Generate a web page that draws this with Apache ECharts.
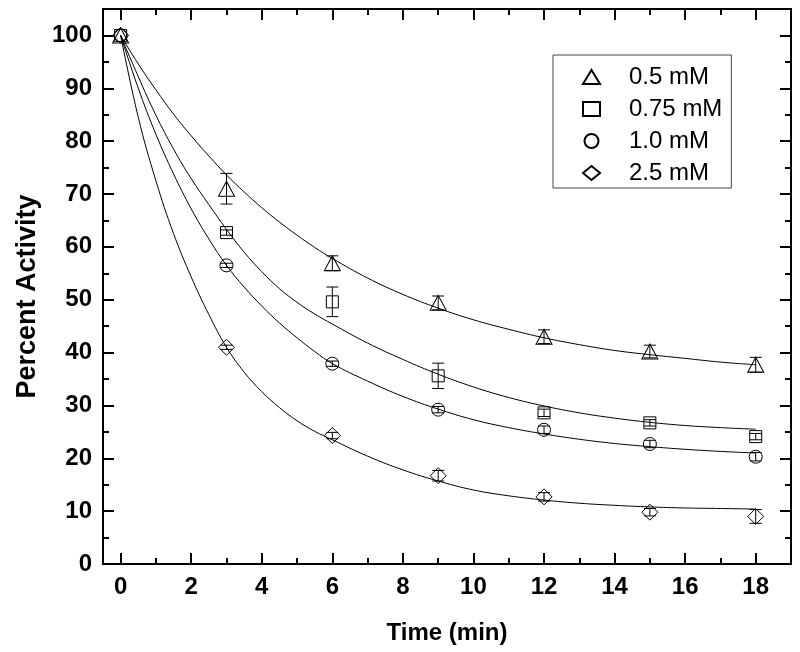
<!DOCTYPE html>
<html>
<head>
<meta charset="utf-8">
<script src="https://cdn.jsdelivr.net/npm/echarts@6/dist/echarts.min.js"></script>
<style>html,body{margin:0;padding:0;background:#fff}#c{width:800px;height:652px}</style>
</head>
<body>
<div id="c"></div>
<script>
// ---- data ----
const times = [0, 3, 6, 9, 12, 15, 18];
const act05  = [100, 71.0, 56.9, 49.4, 43.0, 40.2, 37.7];
const err05  = [0, 2.9, 1.4, 1.3, 1.3, 1.2, 1.4];
const act075 = [100, 62.7, 49.6, 35.6, 28.6, 26.7, 24.1];
const err075 = [0, 0.5, 2.8, 2.4, 0.7, 0.6, 0.6];
const act10  = [100, 56.5, 37.9, 29.2, 25.4, 22.7, 20.3];
const err10  = [0, 0.4, 0.5, 0.6, 0.7, 0.7, 0.8];
const act25  = [100, 41.0, 24.3, 16.7, 12.7, 9.8, 9.0];
const err25  = [0, 0.4, 0.6, 1.0, 0.8, 0.7, 1.3];

// fitted curves
const fitT   = [0, 0.5, 1, 1.5, 2, 2.5, 3, 3.5, 4, 4.5, 5, 5.5, 6, 7, 8, 9, 10, 11, 12, 13, 14, 15, 16, 17, 18];
const fit05  = [100, 94.6, 89.7, 85.1, 81.0, 77.2, 73.6, 70.4, 67.4, 64.7, 62.2, 59.9, 57.8, 54.1, 51.0, 48.4, 46.2, 44.4, 42.8, 41.5, 40.4, 39.6, 38.9, 38.2, 37.7];
const fit075 = [100, 92.2, 84.9, 78.5, 72.9, 68.0, 63.3, 59.0, 55.3, 52.1, 49.5, 47.3, 45.4, 41.8, 38.7, 35.9, 33.5, 31.5, 29.9, 28.6, 27.6, 26.8, 26.2, 25.8, 25.5];
const fit10  = [100, 90.0, 81.3, 73.8, 67.2, 61.5, 56.5, 52.4, 48.8, 45.6, 42.8, 40.2, 37.9, 34.6, 31.7, 29.3, 27.3, 25.8, 24.6, 23.6, 22.8, 22.2, 21.7, 21.3, 21.0];
const fit25  = [100, 84.5, 72.5, 62.5, 54.3, 47.2, 41.0, 36.3, 32.6, 29.6, 27.1, 25.1, 23.5, 20.4, 17.8, 15.7, 14.0, 12.9, 12.1, 11.5, 11.1, 10.8, 10.6, 10.5, 10.4];

const names = ['0.5 mM', '0.75 mM', '1.0 mM', '2.5 mM'];
const xMajor = [0, 2, 4, 6, 8, 10, 12, 14, 16, 18];
const xMinor = [1, 3, 5, 7, 9, 11, 13, 15, 17];
const yMajor = [0, 10, 20, 30, 40, 50, 60, 70, 80, 90, 100];
const yMinor = [5, 15, 25, 35, 45, 55, 65, 75, 85, 95];

const FONT = "'Liberation Sans', Arial, Helvetica, sans-serif";

const groups = [
  {name: names[0], act: act05, err: err05, fit: fit05, symbol: 'triangle', size: [16, 15]},
  {name: names[1], act: act075, err: err075, fit: fit075, symbol: 'rect', size: [12, 12]},
  {name: names[2], act: act10, err: err10, fit: fit10, symbol: 'circle', size: [13, 13]},
  {name: names[3], act: act25, err: err25, fit: fit25, symbol: 'diamond', size: [16, 16]}
];

function errRender(params, api) {
  const x = api.value(0), y = api.value(1), e = api.value(2);
  if (!e) return null;
  const p1 = api.coord([x, y + e]);
  const p2 = api.coord([x, y - e]);
  const h = 6;
  const st = {stroke: '#000', lineWidth: 1, fill: null};
  return {
    type: 'group',
    children: [
      {type: 'line', shape: {x1: p1[0], y1: p1[1], x2: p2[0], y2: p2[1]}, style: st},
      {type: 'line', shape: {x1: p1[0] - h, y1: p1[1], x2: p1[0] + h, y2: p1[1]}, style: st},
      {type: 'line', shape: {x1: p2[0] - h, y1: p2[1], x2: p2[0] + h, y2: p2[1]}, style: st}
    ]
  };
}

const series = [];
groups.forEach((g, gi) => {
  series.push({
    type: 'line', name: 'fit' + gi, data: fitT.map((t, i) => [t, g.fit[i]]),
    smooth: 0.4, symbol: 'none', showSymbol: false, silent: true, z: 1,
    lineStyle: {color: '#000', width: 1}
  });
  series.push({
    type: 'custom', name: 'err' + gi, renderItem: errRender, z: 2, silent: true,
    encode: {x: 0, y: 1},
    data: times.map((t, i) => [t, g.act[i], g.err[i]])
  });
  series.push({
    type: 'scatter', name: g.name, symbol: g.symbol, symbolSize: g.size, z: 3,
    itemStyle: {color: 'rgba(0,0,0,0)', borderColor: '#000', borderWidth: 1, opacity: 1},
    data: times.map((t, i) => [t, g.act[i]])
  });
});

function xAx(pos, vals, len, labels) {
  const a = {
    type: 'value', position: pos, min: -0.5, max: 19,
    splitLine: {show: false},
    axisLine: {show: false, onZero: false},
    axisTick: {show: true, inside: true, length: len, customValues: vals, lineStyle: {color: '#000', width: 2}},
    axisLabel: {show: false}
  };
  if (labels) {
    a.axisLabel = {show: true, customValues: vals, fontSize: 24, fontWeight: 'bold', fontFamily: FONT, color: '#000', margin: 11};
    a.name = 'Time (min)';
    a.nameLocation = 'middle';
    a.nameGap = 57;
    a.nameTextStyle = {fontSize: 24, fontWeight: 'bold', fontFamily: FONT, color: '#000'};
  }
  return a;
}
function yAx(pos, vals, len, labels) {
  const a = {
    type: 'value', position: pos, min: 0, max: 105,
    splitLine: {show: false},
    axisLine: {show: false, onZero: false},
    axisTick: {show: true, inside: true, length: len, customValues: vals, lineStyle: {color: '#000', width: 2}},
    axisLabel: {show: false}
  };
  if (labels) {
    a.axisLabel = {show: true, customValues: vals, fontSize: 24, fontWeight: 'bold', fontFamily: FONT, color: '#000', margin: 11};
    a.name = 'Percent Activity';
    a.nameLocation = 'middle';
    a.nameGap = 60;
    a.nameTextStyle = {fontSize: 27, fontWeight: 'bold', fontFamily: FONT, color: '#000', padding: [0, 20, 0, 0]};
  }
  return a;
}

const chart = echarts.init(document.getElementById('c'), null, {renderer: 'canvas'});
chart.setOption({
  animation: false,
  backgroundColor: '#fff',
  grid: {left: 103, top: 9, right: 9, bottom: 88, show: true, borderColor: '#000', borderWidth: 2, backgroundColor: 'rgba(0,0,0,0)'},
  xAxis: [xAx('bottom', xMajor, 11, true), xAx('bottom', xMinor, 6, false), xAx('top', xMajor, 11, false), xAx('top', xMinor, 6, false)],
  yAxis: [yAx('left', yMajor, 11, true), yAx('left', yMinor, 6, false), yAx('right', yMajor, 11, false), yAx('right', yMinor, 6, false)],
  legend: {
    data: names, orient: 'vertical', left: 553, top: 55,
    padding: [10, 9, 3, 29], itemGap: 8, itemWidth: 17, itemHeight: 14,
    borderColor: '#444', borderWidth: 1, backgroundColor: '#fff',
    textStyle: {fontSize: 24, fontFamily: FONT, color: '#000', lineHeight: 24, padding: [0, 0, 0, 24]},
    selectedMode: false
  },
  series: series
});
</script>
</body>
</html>
